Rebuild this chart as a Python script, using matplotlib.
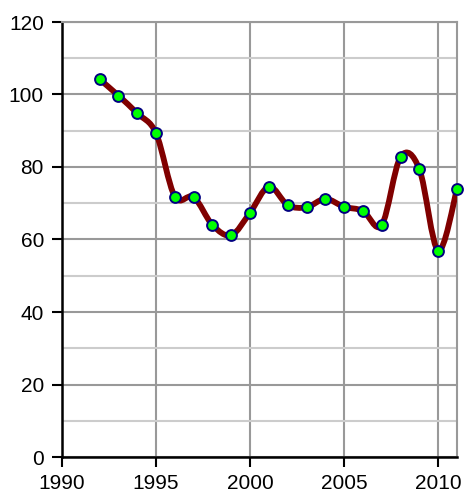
import matplotlib
matplotlib.use("Agg")
import matplotlib.pyplot as plt
from matplotlib.path import Path
from matplotlib.patches import PathPatch
from matplotlib.ticker import MultipleLocator

years = [1992, 1993, 1994, 1995, 1996, 1997, 1998, 1999, 2000, 2001,
         2002, 2003, 2004, 2005, 2006, 2007, 2008, 2009, 2010, 2011]
values = [104.2, 99.7, 94.8, 89.3, 71.8, 71.7, 64.0, 61.2, 67.4, 74.6,
          69.5, 68.9, 71.2, 69.0, 67.9, 64.0, 82.8, 79.4, 56.9, 73.9]


def smooth_path(xs, ys):
    # Excel-style smoothed line: cubic bezier segments through every point
    pts = list(zip(xs, ys))
    verts = [pts[0]]
    codes = [Path.MOVETO]
    n = len(pts)
    for i in range(n - 1):
        p0 = pts[i - 1] if i > 0 else pts[i]
        p1 = pts[i]
        p2 = pts[i + 1]
        p3 = pts[i + 2] if i + 2 < n else pts[i + 1]
        c1 = (p1[0] + (p2[0] - p0[0]) / 6, p1[1] + (p2[1] - p0[1]) / 6)
        c2 = (p2[0] - (p3[0] - p1[0]) / 6, p2[1] - (p3[1] - p1[1]) / 6)
        verts += [c1, c2, p2]
        codes += [Path.CURVE4] * 3
    return Path(verts, codes)


plt.rcParams["font.family"] = ["Liberation Sans", "DejaVu Sans"]

fig = plt.figure(figsize=(4.66, 4.94), dpi=100)
ax = fig.add_axes([62 / 466, 37 / 494, 395 / 466, 435 / 494])

ax.set_xlim(1990, 2011)
ax.set_ylim(0, 120)
ax.xaxis.set_major_locator(MultipleLocator(5))
ax.yaxis.set_major_locator(MultipleLocator(20))
ax.yaxis.set_minor_locator(MultipleLocator(10))

ax.grid(True, which="major", axis="both", color="#999999", linewidth=1.5)
ax.grid(True, which="minor", axis="y", color="#cccccc", linewidth=1.5)
ax.set_axisbelow(True)

for side in ("top", "right"):
    ax.spines[side].set_color("#999999")
    ax.spines[side].set_linewidth(1.5)
for side in ("left", "bottom"):
    ax.spines[side].set_color("black")
    ax.spines[side].set_linewidth(1.8)

ax.tick_params(axis="both", which="major", direction="out", length=7,
               width=1.5, labelsize=15)
ax.tick_params(axis="x", which="major", pad=5)
ax.tick_params(axis="y", which="major", pad=6)
ax.tick_params(axis="y", which="minor", length=0)

patch = PathPatch(smooth_path(years, values), facecolor="none",
                  edgecolor="#800000", linewidth=4.2, capstyle="round",
                  joinstyle="round", zorder=3)
ax.add_patch(patch)
ax.plot(years, values, linestyle="none", marker="o", markersize=7.8,
        markerfacecolor="#00ff00", markeredgecolor="#000080",
        markeredgewidth=1.4, zorder=4, clip_on=False)

fig.savefig("out.png", dpi=100)
